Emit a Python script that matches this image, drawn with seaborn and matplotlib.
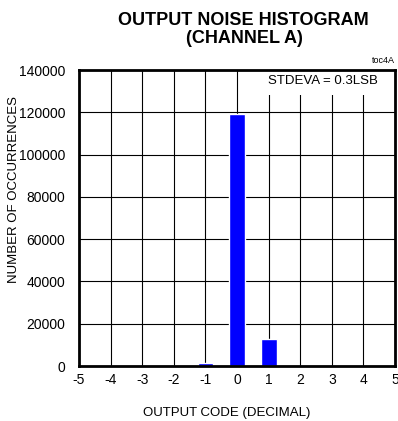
import numpy as np
import pandas as pd
import seaborn as sns
import matplotlib
matplotlib.use('AGG')
import matplotlib.pyplot as plt
from matplotlib.patches import Rectangle

# Histogram data
codes = [-4, -3, -2, -1, 0, 1, 2, 3, 4]
counts = [0, 0, 0, 1300, 119000, 13000, 0, 0, 0]

x_ticks = list(range(-5, 6))
y_ticks = list(range(0, 140001, 20000))

sns.set_style("white")
plt.rcParams['font.family'] = ['Liberation Sans', 'DejaVu Sans']
for key in ['text.color', 'axes.labelcolor', 'xtick.color', 'ytick.color']:
    plt.rcParams[key] = 'black'

df = pd.DataFrame({'code': codes, 'count': counts})

fig = plt.figure(figsize=(3.98, 4.21), dpi=100)
ax = fig.add_axes([0.1985, 0.1306, 0.7940, 0.7031])

sns.barplot(x='code', y='count', data=df, ax=ax, native_scale=True,
            color='#0000ff', saturation=1, width=0.5, zorder=3)

ax.set_xlim(-5, 5)
ax.set_ylim(0, 140000)
ax.set_xticks(x_ticks)
ax.set_yticks(y_ticks)
ax.set_xticklabels([str(t) for t in x_ticks], fontsize=10)
ax.set_yticklabels([str(t) for t in y_ticks], fontsize=10)
ax.tick_params(axis='x', length=0, pad=5)
ax.tick_params(axis='y', length=0, pad=10)
ax.grid(True, color='black', linewidth=0.8, zorder=0)
ax.set_axisbelow(True)
for s in ax.spines.values():
    s.set_linewidth(2)
    s.set_color('black')
    s.set_zorder(6)

ax.set_xlabel('OUTPUT CODE (DECIMAL)', fontsize=9.5)
ax.set_ylabel('NUMBER OF OCCURRENCES', fontsize=9.5)
ax.xaxis.set_label_coords(0.468, -0.14)
ax.yaxis.set_label_coords(-0.188, 0.598)

# white box hides the grid behind the label in the upper right
ax.add_patch(Rectangle((0.58, 0.915), 0.42, 0.085, transform=ax.transAxes,
                       facecolor='white', edgecolor='none', zorder=4))
ax.text(0.946, 0.963, 'STDEVA = 0.3LSB', transform=ax.transAxes, ha='right',
        va='center', fontsize=9.5, zorder=5)

fig.text(0.611, 0.952, 'OUTPUT NOISE HISTOGRAM', ha='center', va='center',
         fontsize=13, fontweight='bold')
fig.text(0.613, 0.908, '(CHANNEL A)', ha='center', va='center',
         fontsize=13, fontweight='bold')
fig.text(0.993, 0.857, 'toc4A', ha='right', va='center', fontsize=6.5)

plt.savefig('out.png', dpi=100)
